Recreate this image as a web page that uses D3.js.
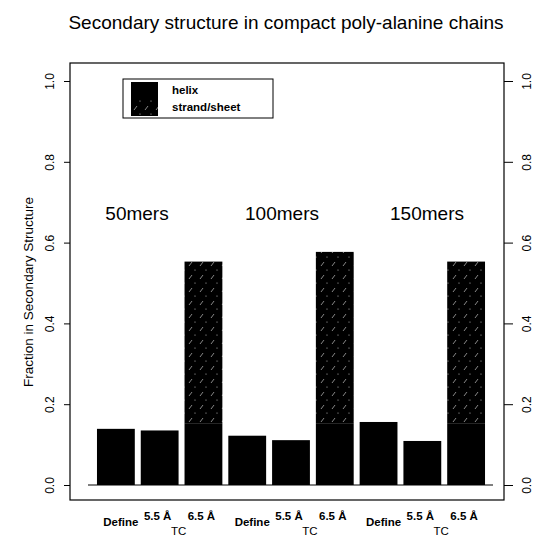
<!DOCTYPE html>
<html>
<head>
<meta charset="utf-8">
<script src="https://cdn.jsdelivr.net/npm/d3@7"></script>
<style>
  html, body { margin: 0; padding: 0; background: #fff; }
  svg { display: block; font-family: "Liberation Sans", Arial, Helvetica, sans-serif; }
</style>
</head>
<body>
<svg id="chart" width="537" height="537"></svg>
<script>
// ---- data ----
const groups = ["50mers", "100mers", "150mers"];
const methods = ["Define", "5.5 Å", "6.5 Å"];
const helix  = [0.139, 0.135, 0.153, 0.122, 0.111, 0.153, 0.156, 0.109, 0.153];
const strand = [0, 0, 0.400, 0, 0, 0.424, 0, 0, 0.400];
const yTicks = [0, 0.2, 0.4, 0.6, 0.8, 1.0];
const legendLabels = ["helix", "strand/sheet"];
const title = "Secondary structure in compact poly-alanine chains";
const yTitle = "Fraction in Secondary Structure";

const svg = d3.select("#chart");
const box = {left: 70, right: 504, top: 63, bottom: 500};

// pattern for strand/sheet
const defs = svg.append("defs");
const pat = defs.append("pattern").attr("id", "hatch")
  .attr("patternUnits", "userSpaceOnUse").attr("width", 11).attr("height", 13);
pat.append("rect").attr("width", 11).attr("height", 13).attr("fill", "#000");
pat.append("line").attr("x1", 2).attr("y1", 6).attr("x2", 5).attr("y2", 2)
  .attr("stroke", "#aaa").attr("stroke-width", 0.8);
pat.append("circle").attr("cx", 8).attr("cy", 10).attr("r", 0.6).attr("fill", "#bbb");

const keys = d3.range(helix.length);
const x = d3.scaleBand().domain(keys).range([94, 488]).paddingInner(0.136).paddingOuter(0.068);
const y = d3.scaleLinear().domain([0, 1]).range([485, 81]);

// title
svg.append("text").attr("x", 286).attr("y", 29).attr("text-anchor", "middle")
  .attr("font-size", 19).text(title);

// box
svg.append("rect").attr("x", box.left).attr("y", box.top)
  .attr("width", box.right - box.left).attr("height", box.bottom - box.top)
  .attr("fill", "none").attr("stroke", "#000").attr("stroke-width", 1.2);

// left axis
const left = svg.append("g").attr("transform", `translate(${box.left},0)`)
  .call(d3.axisLeft(y).tickValues(yTicks).tickFormat(d3.format(".1f")).tickSize(6));
left.select(".domain").remove();
left.selectAll("text").attr("font-size", 12).attr("font-family", "Liberation Sans, Arial")
  .attr("fill", "#000").attr("x", 0).attr("y", 0).attr("dy", "0.35em")
  .attr("text-anchor", "middle").attr("transform", "translate(-20,0) rotate(-90)");

// right axis
const right = svg.append("g").attr("transform", `translate(${box.right},0)`)
  .call(d3.axisRight(y).tickValues(yTicks).tickFormat(d3.format(".1f")).tickSize(9));
right.select(".domain").remove();
right.selectAll("text").attr("font-size", 12).attr("font-family", "Liberation Sans, Arial")
  .attr("fill", "#000").attr("x", 0).attr("y", 0).attr("dy", "0.35em")
  .attr("text-anchor", "middle").attr("transform", "translate(23,0) rotate(-90)");

// y title
svg.append("text").attr("transform", `translate(33, 292) rotate(-90)`)
  .attr("text-anchor", "middle").attr("font-size", 13.5).text(yTitle);

// baseline
svg.append("line").attr("x1", 88).attr("x2", 493).attr("y1", y(0)).attr("y2", y(0))
  .attr("stroke", "#000").attr("stroke-width", 1);

// bars
const bars = svg.append("g");
bars.selectAll("rect.h").data(keys).join("rect").attr("class", "h")
  .attr("x", i => x(i)).attr("width", x.bandwidth())
  .attr("y", i => y(helix[i])).attr("height", i => y(0) - y(helix[i]))
  .attr("fill", "#000");
bars.selectAll("rect.s").data(keys.filter(i => strand[i] > 0)).join("rect").attr("class", "s")
  .attr("x", i => x(i)).attr("width", x.bandwidth())
  .attr("y", i => y(helix[i] + strand[i])).attr("height", i => y(helix[i]) - y(helix[i] + strand[i]))
  .attr("fill", "url(#hatch)");

// group labels
groups.forEach((g, gi) => {
  svg.append("text").attr("x", 137 + gi * 145).attr("y", 220).attr("text-anchor", "middle")
    .attr("font-size", 19).text(g);
});

// x labels
keys.forEach(i => {
  const m = i % 3;
  const cx = x(i) + x.bandwidth() / 2;
  svg.append("text").attr("x", m === 0 ? cx + 5 : cx - 2).attr("y", m === 0 ? 526 : 520)
    .attr("text-anchor", "middle").attr("font-size", 11.5).attr("font-weight", "bold")
    .text(methods[m]);
});
groups.forEach((g, gi) => {
  const cx = (x(gi * 3 + 1) + x(gi * 3 + 2) + x.bandwidth()) / 2;
  svg.append("text").attr("x", cx - 3).attr("y", 535).attr("text-anchor", "middle")
    .attr("font-size", 11.5).text("TC");
});

// legend
const lg = svg.append("g");
lg.append("rect").attr("x", 123).attr("y", 79).attr("width", 150).attr("height", 39)
  .attr("fill", "#fff").attr("stroke", "#000").attr("stroke-width", 1);
const swFills = ["#000", "url(#hatch)"];
legendLabels.forEach((l, i) => {
  lg.append("rect").attr("x", 131).attr("y", 82 + i * 17).attr("width", 27).attr("height", 17)
    .attr("fill", swFills[i]);
  lg.append("text").attr("x", 172).attr("y", 94 + i * 17)
    .attr("font-size", 11.5).attr("font-weight", "bold").text(l);
});
</script>
</body>
</html>
